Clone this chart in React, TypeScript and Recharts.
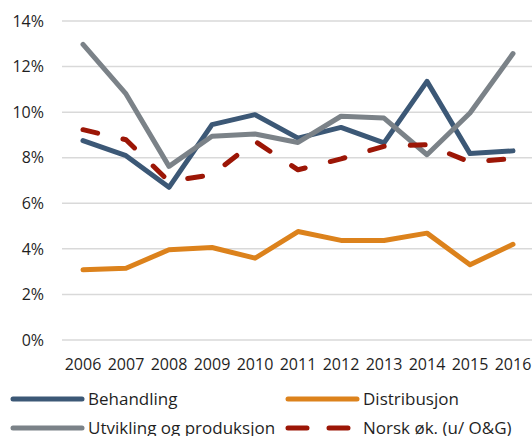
import React from 'react';
import { LineChart, Line, XAxis, YAxis, CartesianGrid, Legend } from 'recharts';

const years = ['2006', '2007', '2008', '2009', '2010', '2011', '2012', '2013', '2014', '2015', '2016'];
const behandling = [8.75, 8.09, 6.7, 9.45, 9.89, 8.86, 9.33, 8.65, 11.35, 8.18, 8.3];
const distribusjon = [3.08, 3.15, 3.96, 4.06, 3.59, 4.76, 4.37, 4.37, 4.69, 3.3, 4.2];
const utvikling = [12.97, 10.8, 7.62, 8.94, 9.04, 8.67, 9.82, 9.74, 8.13, 9.96, 12.57];
const norsk = [9.23, 8.79, 6.96, 7.25, 8.72, 7.47, 7.95, 8.5, 8.57, 7.81, 7.96];
const yTicks = [0, 2, 4, 6, 8, 10, 12, 14];

const series = [
  { key: 'behandling', name: 'Behandling', color: '#3C5876', dashed: false },
  { key: 'distribusjon', name: 'Distribusjon', color: '#DC821C', dashed: false },
  { key: 'utvikling', name: 'Utvikling og produksjon', color: '#7B8288', dashed: false },
  { key: 'norsk', name: 'Norsk øk. (u/ O&G)', color: '#9C1606', dashed: true },
];

const data = years.map((y, i) => ({
  year: y,
  behandling: behandling[i],
  distribusjon: distribusjon[i],
  utvikling: utvikling[i],
  norsk: norsk[i],
}));

const FONT = '"Open Sans", sans-serif';
const TEXT = '#1f1f1f';

const LegendContent = () => (
  <div style={{ display: 'flex', flexWrap: 'wrap', width: 540, fontFamily: FONT, fontSize: 17, color: TEXT }}>
    {series.map((s, i) => (
      <div
        key={s.key}
        style={{
          width: i % 2 === 0 ? 285 : 255,
          height: 29.5,
          display: 'flex',
          alignItems: 'center',
          paddingLeft: i % 2 === 0 ? 10 : 0,
          boxSizing: 'border-box',
        }}
      >
        <svg width={76} height={8} style={{ marginRight: 2, flexShrink: 0 }}>
          <line
            x1={3}
            y1={4}
            x2={72}
            y2={4}
            stroke={s.color}
            strokeWidth={5}
            strokeLinecap="round"
            strokeDasharray={s.dashed ? '19 22' : undefined}
          />
        </svg>
        <span style={{ whiteSpace: 'nowrap', lineHeight: '20px' }}>{s.name}</span>
      </div>
    ))}
  </div>
);

export default function App() {
  return (
    <div style={{ position: 'absolute', left: 0, top: 0, width: 532, height: 436, overflow: 'hidden', background: '#fff' }}>
      <LineChart width={540} height={436} data={data} margin={{ top: 21, right: 6, bottom: 64, left: 0 }}>
        <CartesianGrid vertical={false} stroke="#D9D9D9" strokeWidth={1.5} />
        <XAxis
          dataKey="year"
          axisLine={false}
          tickLine={false}
          tickMargin={13}
          height={32}
          interval={0}
          padding={{ left: 21, right: 21 }}
          tick={{ fill: TEXT, fontSize: 16, fontFamily: FONT }}
        />
        <YAxis
          domain={[0, 14]}
          ticks={yTicks}
          axisLine={false}
          tickLine={false}
          tickMargin={12}
          width={62}
          tickFormatter={(v: number) => `${v}%`}
          tick={{ fill: TEXT, fontSize: 16, fontFamily: FONT }}
        />
        <Legend
          layout="horizontal"
          verticalAlign="middle"
          align="center"
          content={<LegendContent />}
          wrapperStyle={{ position: 'absolute', top: 384, left: 0, width: 540 }}
        />
        {series.map((s) => (
          <Line
            key={s.key}
            type="linear"
            dataKey={s.key}
            name={s.name}
            stroke={s.color}
            strokeWidth={5}
            strokeLinecap="round"
            strokeLinejoin="round"
            strokeDasharray={s.dashed ? '15 26' : undefined}
            dot={false}
            activeDot={false}
            isAnimationActive={false}
          />
        ))}
      </LineChart>
    </div>
  );
}
